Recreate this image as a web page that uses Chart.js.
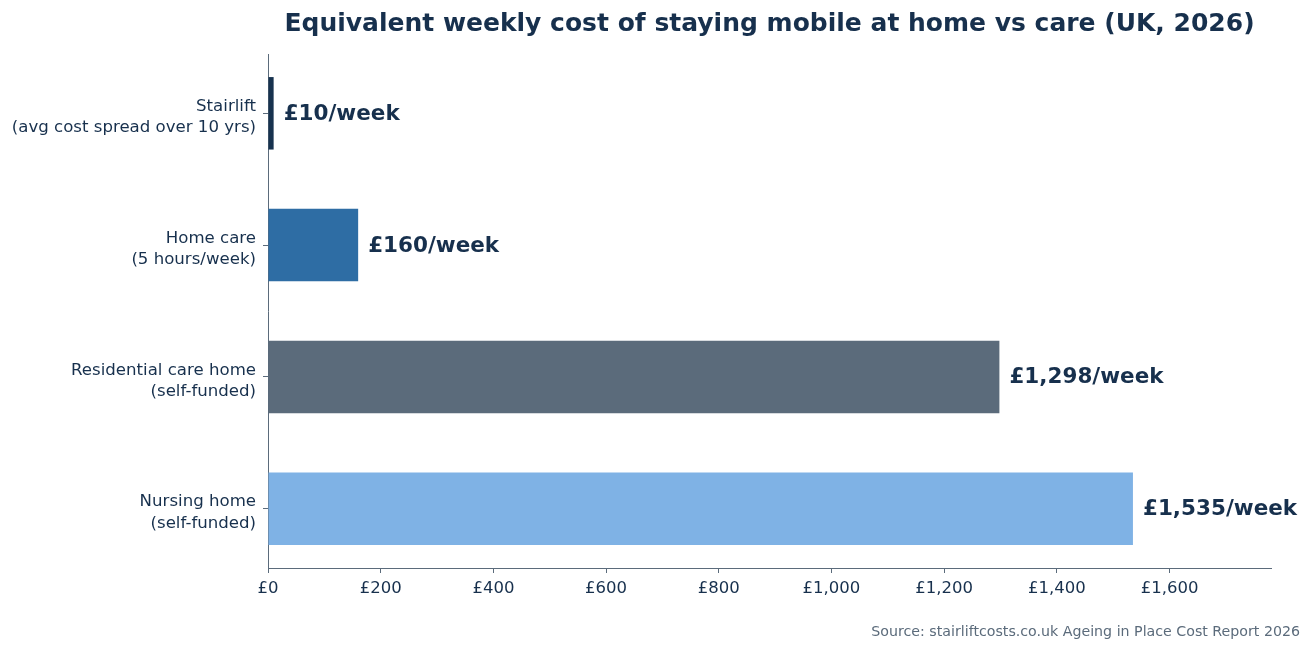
<!DOCTYPE html>
<html>
<head>
<meta charset="utf-8">
<script src="https://cdn.jsdelivr.net/npm/chart.js@4"></script>
<style>
  html, body { margin: 0; padding: 0; background: #fff; }
  canvas { display: block; }
</style>
</head>
<body id="body">
<canvas id="content-bars" width="1312" height="650"></canvas>
<script>
// data
const categories = [
  ['Stairlift', '(avg cost spread over 10 yrs)'],
  ['Home care', '(5 hours/week)'],
  ['Residential care home', '(self-funded)'],
  ['Nursing home', '(self-funded)']
];
const weeklyCost = [10, 160, 1298, 1535];
const xTicks = [0, 200, 400, 600, 800, 1000, 1200, 1400, 1600];
const barColors = ['#17324f', '#2e6da4', '#5b6b7b', '#7fb2e5'];

const TEXT = '#17304d';
const AXIS = '#5b6b7b';
const FONT = "'DejaVu Sans', sans-serif";

const money = v => '£' + v.toLocaleString('en-GB');

// title, value labels and source note
const decorations = {
  id: 'decorations',
  afterDatasetsDraw(chart) {
    const ctx = chart.ctx;
    const area = chart.chartArea;
    ctx.save();
    ctx.fillStyle = TEXT;
    ctx.font = "bold 21.5px " + FONT;
    ctx.textBaseline = 'middle';
    ctx.textAlign = 'left';
    chart.getDatasetMeta(0).data.forEach((bar, i) => {
      ctx.fillText(money(weeklyCost[i]) + '/week', bar.x + 10, bar.y + 1);
    });

    ctx.font = "bold 25px " + FONT;
    ctx.textAlign = 'center';
    ctx.fillText('Equivalent weekly cost of staying mobile at home vs care (UK, 2026)', (area.left + area.right) / 2, 24);

    ctx.font = "14.2px " + FONT;
    ctx.fillStyle = '#5b6b7b';
    ctx.textAlign = 'right';
    ctx.fillText('Source: stairliftcosts.co.uk Ageing in Place Cost Report 2026', 1300, 632);
    ctx.restore();
  }
};

new Chart(document.getElementById('content-bars'), {
  type: 'bar',
  data: {
    datasets: [{
      data: weeklyCost.map((v, i) => ({ x: v, y: i })),
      backgroundColor: barColors,
      barPercentage: 0.55,
      categoryPercentage: 1
    }]
  },
  options: {
    indexAxis: 'y',
    responsive: false,
    animation: false,
    layout: { padding: { top: 54, right: 41, left: 0, bottom: 0 } },
    plugins: {
      legend: { display: false },
      tooltip: { enabled: false }
    },
    scales: {
      x: {
        type: 'linear',
        min: 0,
        max: 1780,
        afterFit: s => { s.height = 82; },
        afterBuildTicks: s => { s.ticks = xTicks.map(v => ({ value: v })); },
        ticks: {
          callback: v => money(v),
          color: TEXT,
          font: { family: FONT, size: 16.5 },
          padding: 6,
          maxRotation: 0
        },
        grid: { drawOnChartArea: false, drawTicks: true, tickLength: 5, color: AXIS },
        border: { display: true, color: AXIS, width: 1 }
      },
      y: {
        type: 'linear',
        min: -0.45,
        max: 3.45,
        reverse: true,
        offset: false,
        afterFit: s => { s.width = 268; },
        afterBuildTicks: s => { s.ticks = categories.map((c, i) => ({ value: i })); },
        ticks: {
          callback: v => categories[v],
          color: TEXT,
          font: { family: FONT, size: 16.6, lineHeight: 1.27 },
          padding: 7,
          labelOffset: 4
        },
        grid: { offset: false, drawOnChartArea: false, drawTicks: true, tickLength: 5, color: AXIS },
        border: { display: true, color: AXIS, width: 1 }
      }
    }
  },
  plugins: [decorations]
});
</script>
</body>
</html>
